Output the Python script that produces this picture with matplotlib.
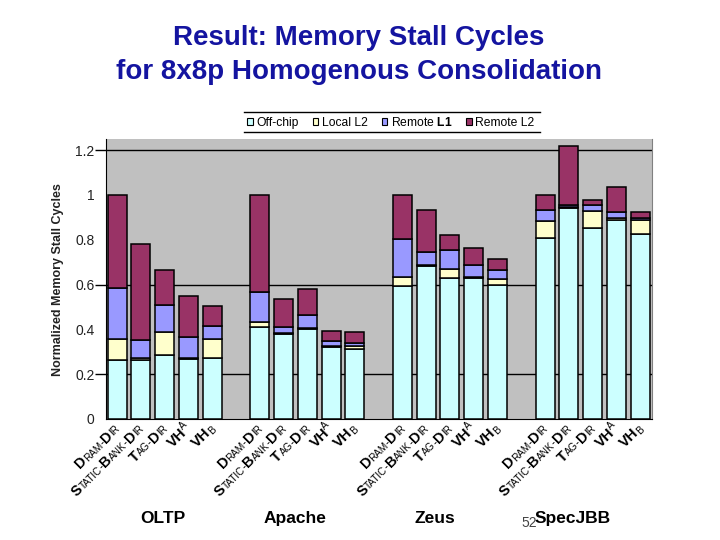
import matplotlib
matplotlib.use('Agg')
import matplotlib.pyplot as plt
import numpy as np
from matplotlib import transforms
from matplotlib.textpath import TextToPath
from matplotlib.font_manager import FontProperties
from matplotlib.lines import Line2D
from matplotlib.patches import Patch

plt.rcParams['font.family'] = ['Liberation Sans', 'DejaVu Sans']
plt.rcParams['mathtext.fontset'] = 'custom'
plt.rcParams['mathtext.bf'] = 'Liberation Sans:bold'
plt.rcParams['mathtext.rm'] = 'Liberation Sans'

# ---------------- data ----------------
workloads = ['OLTP', 'Apache', 'Zeus', 'SpecJBB']
configs = ['DRAM-DIR', 'STATIC-BANK-DIR', 'TAG-DIR', 'VHA', 'VHB']
components = ['Off-chip', 'Local L2', 'Remote $\\mathbf{L1}$', 'Remote L2']

off_chip = [0.262, 0.263, 0.286, 0.268, 0.271,
            0.412, 0.381, 0.402, 0.320, 0.311,
            0.592, 0.684, 0.631, 0.630, 0.597,
            0.807, 0.943, 0.851, 0.887, 0.824]
local_l2 = [0.096, 0.008, 0.101, 0.005, 0.085,
            0.020, 0.003, 0.005, 0.005, 0.016,
            0.041, 0.003, 0.037, 0.003, 0.027,
            0.075, 0.003, 0.076, 0.009, 0.063]
remote_l1 = [0.225, 0.080, 0.121, 0.094, 0.059,
             0.134, 0.025, 0.057, 0.024, 0.014,
             0.171, 0.058, 0.085, 0.056, 0.040,
             0.050, 0.008, 0.027, 0.027, 0.010]
remote_l2 = [0.417, 0.430, 0.157, 0.183, 0.089,
             0.434, 0.127, 0.116, 0.042, 0.049,
             0.196, 0.186, 0.068, 0.073, 0.049,
             0.068, 0.263, 0.024, 0.113, 0.026]
y_ticks = [0, 0.2, 0.4, 0.6, 0.8, 1.0, 1.2]
y_tick_labels = ['0', '0.2', '0.4', '0.6', '0.8', '1', '1.2']
grid_levels = [0.2, 0.6, 1.2]
title = 'Result: Memory Stall Cycles\nfor 8x8p Homogenous Consolidation'
y_label = 'Normalized Memory Stall Cycles'
slide_number = '52'

# ---------------- style ----------------
colors = ['#CCFFFF', '#FFFFCC', '#9999FF', '#993366']
series = [off_chip, local_l2, remote_l1, remote_l2]

fig = plt.figure(figsize=(7.2, 5.4), dpi=100)
ax = fig.add_axes([0.147, 0.2241, 0.9056 - 0.147, 0.7426 - 0.2241])
ax.set_facecolor('#C0C0C0')

n_cfg = len(configs)
xpos = np.array([g * (n_cfg + 1) + i for g in range(len(workloads)) for i in range(n_cfg)], dtype=float)

bottom = np.zeros(len(xpos))
for vals, col, name in zip(series, colors, components):
    v = np.array(vals)
    ax.bar(xpos, v, width=0.8, bottom=bottom, color=col, edgecolor='black',
           linewidth=1.1, label=name, zorder=3)
    bottom += v

ax.set_xlim(-0.47, xpos[-1] + 0.5)
ax.set_ylim(0, 1.25)

ax.set_yticks(y_ticks)
ax.set_yticklabels(y_tick_labels, fontsize=10, color='#222222')
ax.tick_params(axis='y', which='major', length=0, pad=8)
ax.yaxis.remove_overlapping_locs = False
ax.set_yticks(grid_levels, minor=True)
ax.tick_params(axis='y', which='minor', length=8, width=1, color='black')
ax.yaxis.grid(True, which='minor', color='black', linewidth=1.0)
ax.set_axisbelow(True)
ax.set_xticks([])

ax.spines['top'].set_visible(False)
ax.spines['right'].set_color('#808080')
ax.spines['left'].set_color('black')
ax.spines['bottom'].set_color('black')

# ---------------- small-caps rotated tick labels ----------------
BIG, SMALL = 10.5, 7.2
ttp = TextToPath()

def width_pt(s, size, weight):
    fp = FontProperties(family='Liberation Sans', size=size, weight=weight)
    w, h, d = ttp.get_text_width_height_descent(s, fp, ismath=False)
    return w

def pieces_for(label):
    out = []
    if label.startswith('VH') and len(label) == 3:
        out.append((label[:2], BIG, 'bold', 0.0))
        raise_ = 4.5 if label[2] == 'A' else -1.0
        out.append((label[2], SMALL, 'normal', raise_))
        return out
    words = label.split('-')
    for k, w in enumerate(words):
        if k > 0:
            out.append(('-', SMALL, 'bold', 0.0))
        out.append((w[0], BIG, 'bold', 0.0))
        if len(w) > 1:
            out.append((w[1:], SMALL, 'normal', 0.0))
    return out

ang = np.deg2rad(45)
c, s = np.cos(ang), np.sin(ang)
base = ax.get_xaxis_transform()
for idx, x in enumerate(xpos):
    lab = configs[idx % n_cfg]
    pcs = pieces_for(lab)
    widths = [width_pt(t, sz, wt) for t, sz, wt, _ in pcs]
    total = sum(widths)
    ex, ey = 2.5, -7.5  # end of baseline in points, relative to tick
    sx, sy = ex - total * c, ey - total * s
    u = 0.0
    for (t, sz, wt, v), w in zip(pcs, widths):
        px = sx + u * c - v * s
        py = sy + u * s + v * c
        tr = transforms.offset_copy(base, fig=fig, x=px, y=py, units='points')
        ax.text(x, 0, t, transform=tr, rotation=45, rotation_mode='anchor',
                ha='left', va='baseline', fontsize=sz, fontweight=wt,
                color='black', clip_on=False)
        u += w

# ---------------- workload labels ----------------
group_x_px = [163, 295, 435, 573]
for name, gx in zip(workloads, group_x_px):
    fig.text(gx / 720, 0.039, name, ha='center', va='center',
             fontsize=12.5, fontweight='bold', color='black')
fig.text(529 / 720, 1 - 523 / 540, slide_number, ha='center', va='center',
         fontsize=10, color='#444444')

# ---------------- title and y label ----------------
fig.text(0.498, 0.898, title, ha='center', va='center', fontsize=20,
         fontweight='bold', color='#1414A0', linespacing=1.4)
fig.text(0.08, 0.483, y_label, rotation=90, ha='center', va='center',
         fontsize=9, fontweight='bold', color='#222222')

# ---------------- legend ----------------
handles = [Patch(facecolor=col, edgecolor='black', linewidth=0.8) for col in colors]
leg = fig.legend(handles, components, loc='center', bbox_to_anchor=(391 / 720, 1 - 122.5 / 540),
                 ncol=4, frameon=False, fontsize=8.7, handlelength=0.45, handleheight=0.45,
                 handletextpad=0.3, columnspacing=1.15, borderpad=0.0)
for yy in [112, 132.3]:
    fig.add_artist(Line2D([244 / 720, 540 / 720], [1 - yy / 540, 1 - yy / 540],
                          transform=fig.transFigure, color='black', linewidth=1.0))

fig.savefig('out.png', dpi=100)
